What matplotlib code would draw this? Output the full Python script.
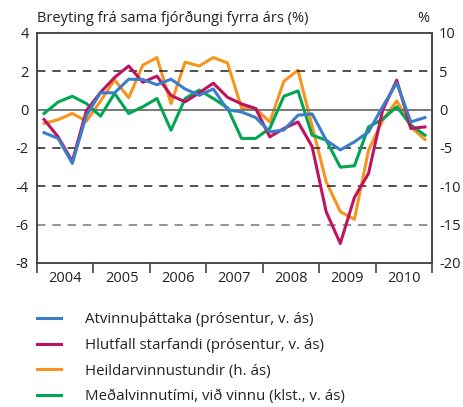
import matplotlib
matplotlib.use("Agg")
import matplotlib.pyplot as plt
import numpy as np
from matplotlib.lines import Line2D

plt.rcParams['font.family'] = ['Open Sans', 'DejaVu Sans']
plt.rcParams['axes.unicode_minus'] = False

years = ['2004', '2005', '2006', '2007', '2008', '2009', '2010']

# quarterly values 2004Q1 - 2010Q4
atvinnuthattaka = [-1.2, -1.5, -2.8, -0.3, 0.88, 0.88, 1.59, 1.57, 1.3, 1.59, 1.08, 0.75, 1.08, 0.0,
                   -0.12, -0.41, -1.16, -1.06, -0.29, -0.22, -1.59, -2.1, -1.68, -1.16, 0.15, 1.4, -0.64, -0.41]
hlutfall = [-0.51, -1.42, -2.7, -0.05, 0.9, 1.68, 2.28, 1.43, 1.75, 0.74, 0.41, 0.88, 1.38, 0.65,
            0.3, 0.06, -1.42, -0.98, -0.64, -1.92, -5.33, -6.98, -4.58, -3.33, -0.03, 1.54, -0.98, -0.9]
heildarvinnustundir = [-1.8, -1.3, -0.5, -1.5, 1.1, 3.9, 1.55, 5.8, 6.8, 0.8, 6.2, 5.7, 6.8, 6.1,
                       0.25, 0.15, -1.6, 3.7, 5.15, -2.1, -9.4, -13.3, -14.3, -5.3, -1.4, 1.15, -2.25, -3.9]
medalvinnutimi = [-0.2, 0.4, 0.7, 0.32, -0.34, 0.85, -0.2, 0.15, 0.58, -1.07, 0.58, 1.02, 0.58, 0.1,
                  -1.5, -1.5, -0.98, 0.7, 0.98, -1.33, -1.59, -3.0, -2.93, -0.9, -0.5, 0.15, -0.8, -1.33]

labels = ['Atvinnuþáttaka (prósentur, v. ás)',
          'Hlutfall starfandi (prósentur, v. ás)',
          'Heildarvinnustundir (h. ás)',
          'Meðalvinnutími, við vinnu (klst., v. ás)']
colors = ['#3b7dc8', '#c0135f', '#f7941d', '#00a651']

W, H = 463, 407
fig = plt.figure(figsize=(W / 100, H / 100), dpi=100)
ax = fig.add_axes([37 / W, 1 - 263 / H, (432 - 37) / W, (263 - 33) / H])
ax2 = ax.twinx()

x = np.arange(len(atvinnuthattaka))
n = len(x)

# grid lines
ax.axhline(0, color='#6e6e6e', lw=1.3, zorder=1)
for v, c in [(2, '#222222'), (-2, '#222222'), (-4, '#222222'), (-6, '#777777')]:
    ax.axhline(v, color=c, lw=1.1, dashes=(5.5, 4.5), zorder=1)

lw = 2.2
ax.plot(x, medalvinnutimi, color=colors[3], lw=lw, zorder=3)
ax.plot(x, atvinnuthattaka, color=colors[0], lw=lw, zorder=5)
ax.plot(x, hlutfall, color=colors[1], lw=lw, zorder=4)
ax2.plot(x, heildarvinnustundir, color=colors[2], lw=lw, zorder=3)

ax.set_zorder(ax2.get_zorder() + 1)
ax.patch.set_visible(False)

ax.set_xlim(-0.5, n - 0.5)
ax.set_ylim(-8, 4)
ax2.set_ylim(-20, 10)
ax.set_yticks(np.arange(-8, 5, 2))
ax.set_yticklabels([str(v) for v in np.arange(-8, 5, 2)])
ax2.set_yticks(np.arange(-20, 11, 5))
ax2.set_yticklabels([str(v) for v in np.arange(-20, 11, 5)])

bounds = np.arange(-0.5, n, 4)
centers = bounds[:-1] + 2
ax.set_xticks(bounds)
ax.set_xticklabels([''] * len(bounds))
ax.set_xticks(centers, minor=True)
ax.set_xticklabels(years, minor=True)
ax.tick_params(axis='x', which='major', length=7, width=1.1, color='#333333', direction='out')
ax.tick_params(axis='x', which='minor', length=0, labelsize=10.5, pad=6, colors='#222222')
ax.tick_params(axis='y', length=0, labelsize=10.5, pad=6, colors='#222222')
ax2.tick_params(axis='y', length=0, labelsize=10.5, pad=5, colors='#222222')

for a in (ax, ax2):
    for s in a.spines.values():
        s.set_color('#444444')
        s.set_linewidth(1.1)

fig.text(37 / W, 1 - 18 / H, 'Breyting frá sama fjórðungi fyrra árs (%)', fontsize=10.5,
         color='#222222', va='center', ha='left')
fig.text(423 / W, 1 - 19 / H, '%', fontsize=10.5, color='#222222', va='center', ha='center')

handles = [Line2D([], [], color=c, lw=2.2) for c in colors]
fig.legend(handles, labels, loc='upper left', bbox_to_anchor=(37 / W, 1 - 312 / H),
           frameon=False, fontsize=10.8, handlelength=1.6, handletextpad=1.6,
           labelspacing=0.72, borderaxespad=0, borderpad=0, labelcolor='#222222')

fig.savefig('out.png', dpi=100)
